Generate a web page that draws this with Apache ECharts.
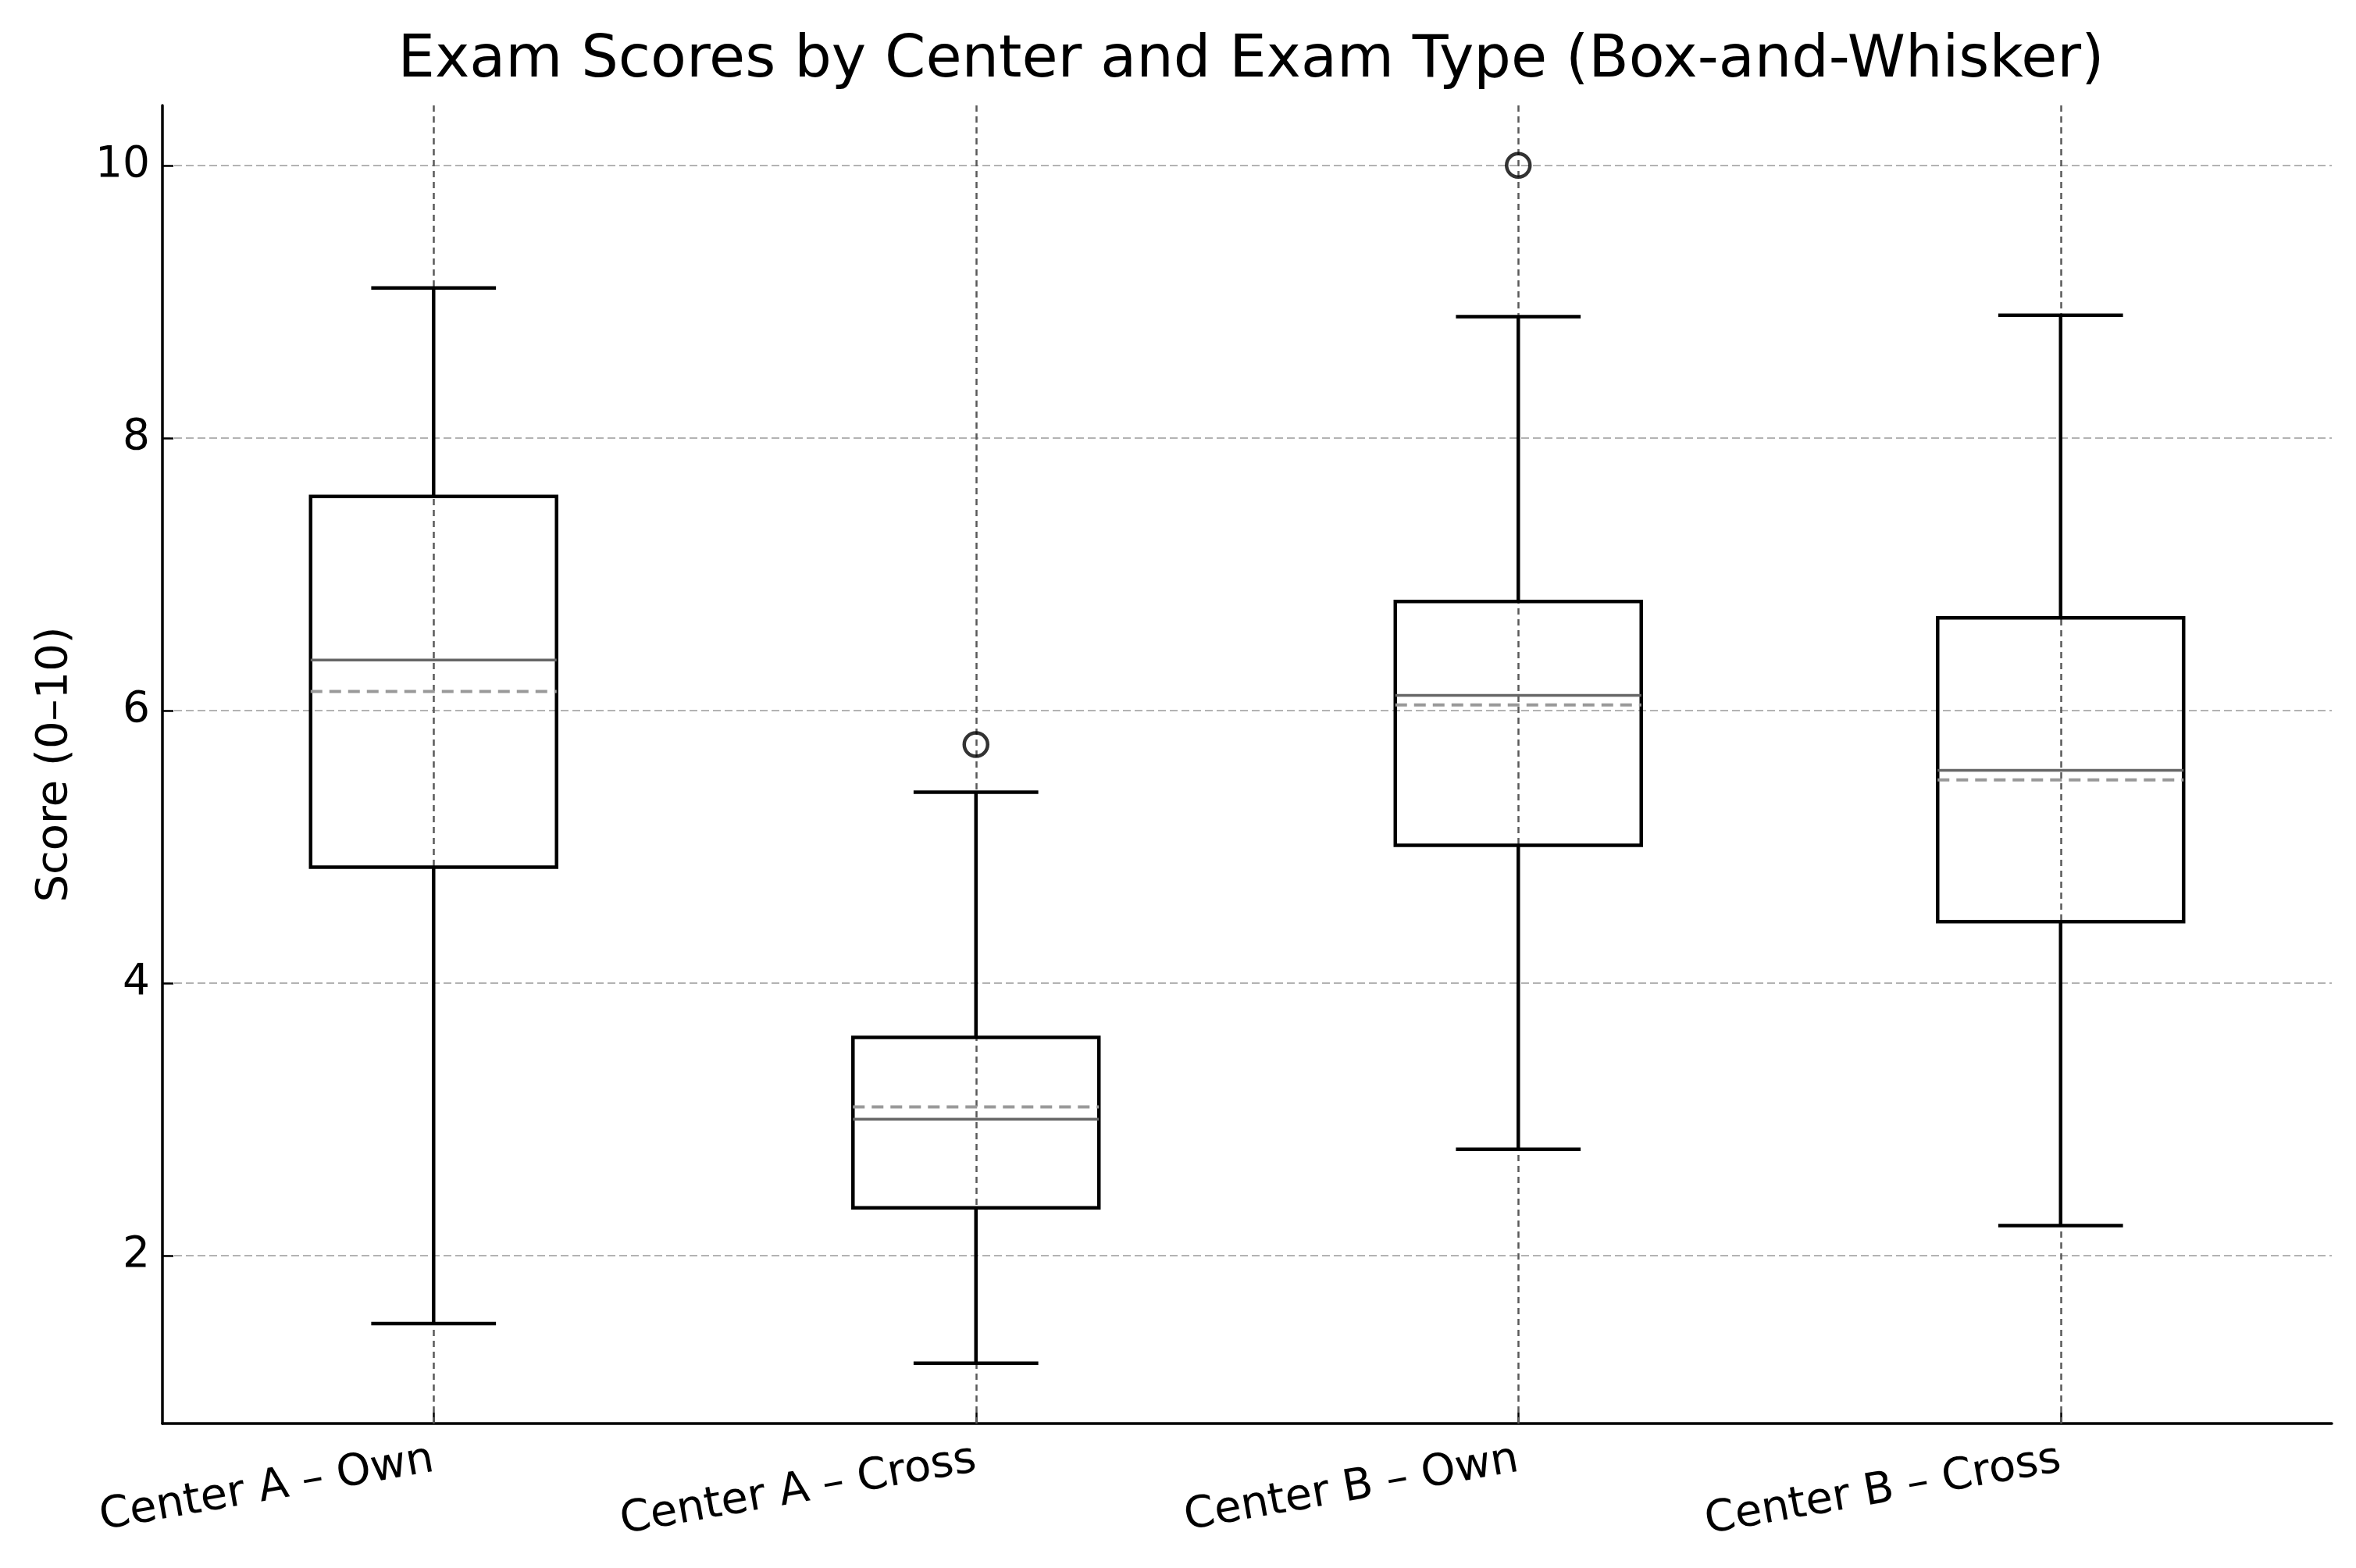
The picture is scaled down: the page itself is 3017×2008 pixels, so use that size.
<!DOCTYPE html>
<html>
<head>
<meta charset="utf-8">
<script src="https://cdn.jsdelivr.net/npm/echarts@6/dist/echarts.min.js"></script>
<style>html,body{margin:0;padding:0;background:#fff}#c{width:3017px;height:2008px}</style>
</head>
<body>
<div id="c"></div>
<script>
const categories = ['Center A – Own', 'Center A – Cross', 'Center B – Own', 'Center B – Cross'];
const whiskerLow  = [1.50, 1.21, 2.78, 2.22];
const q1          = [4.85, 2.35, 5.01, 4.45];
const median      = [6.37, 3.00, 6.11, 5.56];
const q3          = [7.57, 3.60, 6.80, 6.68];
const whiskerHigh = [9.10, 5.40, 8.89, 8.90];
const means       = [6.14, 3.09, 6.04, 5.49];
const outlierCats = ['Center A – Cross', 'Center B – Own'];
const outlierVals = [5.75, 10.0];
const yTicks = [2, 4, 6, 8, 10];

const FONT = 'DejaVu Sans';
const boxData = categories.map((c, i) => [i, whiskerLow[i], q1[i], median[i], q3[i], whiskerHigh[i], means[i]]);
const outlierData = outlierCats.map((c, i) => [c, outlierVals[i]]);

const chart = echarts.init(document.getElementById('c'), null, {renderer: 'canvas'});

function renderBox(params, api) {
  const x = api.value(0);
  const band = api.size([1, 0])[0];
  const boxW = band * 0.4535;
  const capW = band * 0.23;
  const pLow = api.coord([x, api.value(1)]);
  const pQ1 = api.coord([x, api.value(2)]);
  const pMed = api.coord([x, api.value(3)]);
  const pQ3 = api.coord([x, api.value(4)]);
  const pHigh = api.coord([x, api.value(5)]);
  const pMean = api.coord([x, api.value(6)]);
  const cx = pQ1[0];
  const black = {stroke: '#000', lineWidth: 4.5, fill: null};
  return {
    type: 'group',
    children: [
      {type: 'line', shape: {x1: cx, y1: pLow[1], x2: cx, y2: pQ1[1]}, style: black},
      {type: 'line', shape: {x1: cx, y1: pQ3[1], x2: cx, y2: pHigh[1]}, style: black},
      {type: 'line', shape: {x1: cx - capW / 2, y1: pLow[1], x2: cx + capW / 2, y2: pLow[1]}, style: black},
      {type: 'line', shape: {x1: cx - capW / 2, y1: pHigh[1], x2: cx + capW / 2, y2: pHigh[1]}, style: black},
      {type: 'rect', shape: {x: cx - boxW / 2, y: pQ3[1], width: boxW, height: pQ1[1] - pQ3[1]}, style: {stroke: '#000', lineWidth: 4.5, fill: null}},
      {type: 'line', shape: {x1: cx - boxW / 2, y1: pMed[1], x2: cx + boxW / 2, y2: pMed[1]}, style: {stroke: '#666666', lineWidth: 3.5}},
      {type: 'line', shape: {x1: cx - boxW / 2, y1: pMean[1], x2: cx + boxW / 2, y2: pMean[1]}, style: {stroke: '#999999', lineWidth: 4, lineDash: [15, 9]}}
    ]
  };
}

const option = {
  backgroundColor: '#fff',
  animation: false,
  title: {
    text: 'Exam Scores by Center and Exam Type (Box-and-Whisker)',
    left: 1597,
    textAlign: 'center',
    top: 36,
    textStyle: {fontFamily: FONT, fontSize: 75, fontWeight: 'normal', color: '#000'}
  },
  grid: {left: 208, right: 31, top: 135, bottom: 185, containLabel: false},
  xAxis: {
    type: 'category',
    data: categories,
    boundaryGap: true,
    axisLine: {lineStyle: {color: '#000', width: 3.5}},
    axisTick: {show: true, alignWithLabel: true, inside: true, length: 14, lineStyle: {color: '#000', width: 2.5}},
    axisLabel: {rotate: 10, margin: 46, fontFamily: FONT, fontSize: 56, color: '#000'},
    splitLine: {show: false}
  },
  yAxis: {
    type: 'value',
    min: 0.767,
    max: 10.44,
    splitNumber: 5,
    name: 'Score (0–10)',
    nameLocation: 'middle',
    nameGap: 110,
    nameTextStyle: {fontFamily: FONT, fontSize: 56, color: '#000'},
    axisLine: {show: true, lineStyle: {color: '#000', width: 3.5}},
    axisTick: {show: true, inside: true, length: 14, lineStyle: {color: '#000', width: 2.5}},
    axisLabel: {
      margin: 16, fontFamily: FONT, fontSize: 55, color: '#000',
      showMinLabel: false, showMaxLabel: false,
      formatter: v => (yTicks.indexOf(Math.round(v * 1000) / 1000) >= 0 ? String(v) : '')
    },
    splitLine: {show: true, showMinLine: false, showMaxLine: false, lineStyle: {color: '#b3b3b3', width: 2, type: [10, 5]}}
  },
  series: [
    {
      type: 'scatter',
      data: [],
      z: 1,
      markLine: {
        silent: true,
        symbol: 'none',
        label: {show: false},
        z: 1,
        lineStyle: {color: '#5a5a5a', width: 2.5, type: [8, 6]},
        data: categories.map(c => ({xAxis: c}))
      }
    },
    {
      type: 'custom',
      renderItem: renderBox,
      data: boxData,
      encode: {x: 0, y: [1, 2, 3, 4, 5, 6]},
      z: 3
    },
    {
      type: 'scatter',
      data: outlierData,
      symbol: 'circle',
      symbolSize: 30,
      itemStyle: {color: 'rgba(0,0,0,0)', borderColor: '#000', borderWidth: 4.5},
      z: 4
    }
  ]
};
chart.setOption(option);
</script>
</body>
</html>
